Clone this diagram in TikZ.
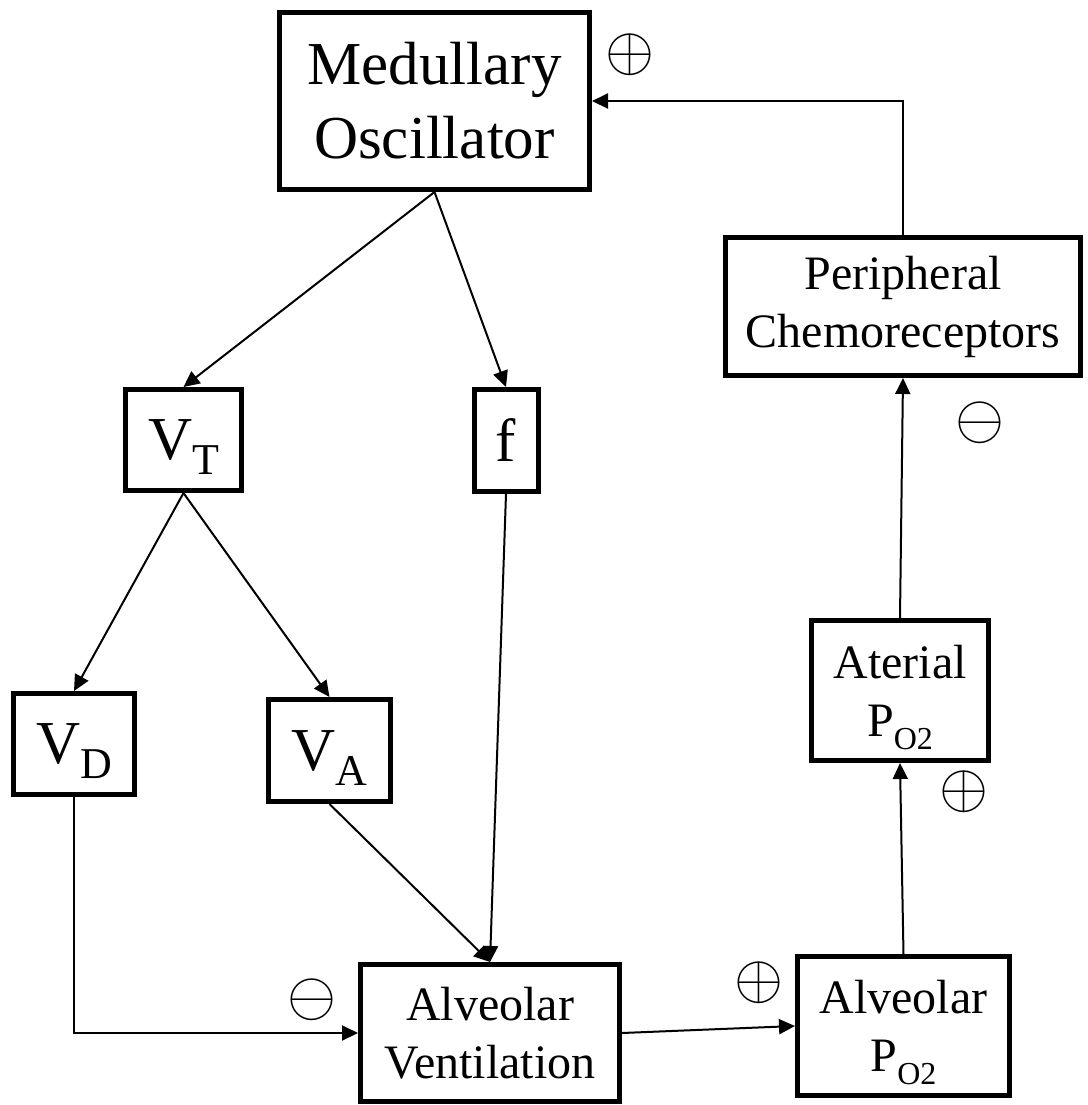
\documentclass[tikz,border=0pt]{standalone}
\usepackage{fontspec}
\setmainfont{Liberation Serif}
\usetikzlibrary{arrows.meta}
\newcommand{\bigsub}[1]{\raisebox{-7.5pt}[0pt][0pt]{\fontsize{22}{24}\selectfont #1}}
\newcommand{\smallsub}[1]{\raisebox{-6.5pt}[0pt][0pt]{\fontsize{16}{18}\selectfont #1}}
\begin{document}
\begin{tikzpicture}[x=0.5pt, y=-0.5pt, >={Triangle[length=8pt, width=7.5pt]},
    block/.style={draw, line width=2.5pt, inner sep=0pt, align=center},
    bigtext/.style={font=\fontsize{30.5}{37}\selectfont},
    smalltext/.style={font=\fontsize{24}{29}\selectfont},
    link/.style={->, line width=1pt},
    sign/.style={scale=3.15, inner sep=0pt}]
    \useasboundingbox (0,0) rectangle (1088,1105);
    % Blocks
    \node[block, bigtext, minimum width=155pt, minimum height=88.5pt] (med) at (434.5,101) {Medullary\\Oscillator};
    \node[block, smalltext, minimum width=177.5pt, minimum height=69pt] (peri) at (903,306.5) {Peripheral\\Chemoreceptors};
    \node[block, bigtext, minimum width=58pt, minimum height=50.5pt] (vt) at (183.5,440) {V\bigsub{T}};
    \node[block, bigtext, minimum width=32pt, minimum height=51pt] (f) at (506,440.5) {f};
    \node[block, bigtext, minimum width=60.5pt, minimum height=50.5pt] (vd) at (74,744) {V\bigsub{D}};
    \node[block, bigtext, minimum width=61pt, minimum height=51pt] (va) at (329.5,750.5) {V\bigsub{A}};
    \node[block, smalltext, minimum width=88.5pt, minimum height=70pt] (art) at (900,690.5) {Aterial\\P\smallsub{O2}};
    \node[block, smalltext, minimum width=129.5pt, minimum height=68.5pt] (vent) at (490,1033) {Alveolar\\Ventilation};
    \node[block, smalltext, minimum width=106pt, minimum height=69.5pt] (alv) at (903.5,1026) {Alveolar\\P\smallsub{O2}};
    % Connectors
    \draw[link] (med.south) -- (vt.north);
    \draw[link] (med.south) -- (f.north);
    \draw[link] (vt.south) -- (vd.north);
    \draw[link] (vt.south) -- (va.north);
    \draw[link] (va.south) -- (vent.north);
    \draw[link] (f.south) -- (vent.north);
    \draw[link] (vd.south) |- (vent.west);
    \draw[link] (vent.east) -- (alv.west);
    \draw[link] (alv.north) -- (art.south);
    \draw[link] (art.north) -- (peri.south);
    \draw[link] (peri.north) |- (med.east);
    % Signs
    \node[sign] (smed) at (630,55) {$\oplus$};
    \node[sign] (speri) at (980,423) {$\ominus$};
    \node[sign] (sart) at (964,792) {$\oplus$};
    \node[sign] (salv) at (759,983) {$\oplus$};
    \node[sign] (svent) at (312,1000) {$\ominus$};
\end{tikzpicture}
\end{document}
